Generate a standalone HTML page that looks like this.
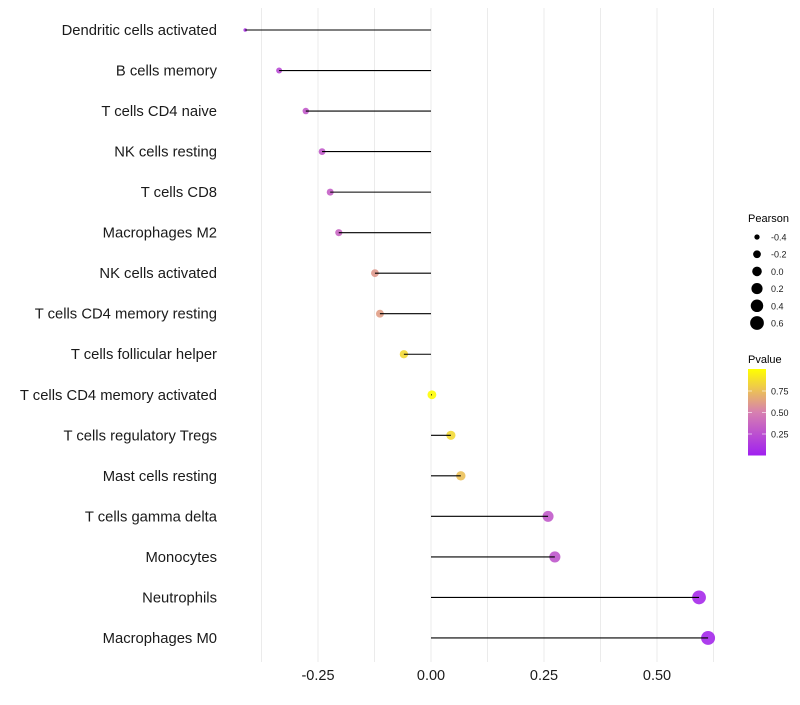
<!DOCTYPE html>
<html><head><meta charset="utf-8"><style>
body{margin:0;background:#fff;font-family:"Liberation Sans",sans-serif}
svg text{font-family:"Liberation Sans",sans-serif}
</style></head><body>
<svg id="chart" width="800" height="700"></svg>
<script>
const categories=["Dendritic cells activated","B cells memory","T cells CD4 naive","NK cells resting","T cells CD8","Macrophages M2","NK cells activated","T cells CD4 memory resting","T cells follicular helper","T cells CD4 memory activated","T cells regulatory  Tregs ","Mast cells resting","T cells gamma delta","Monocytes","Neutrophils","Macrophages M0"];
const pearson=[-0.411,-0.336,-0.277,-0.241,-0.223,-0.204,-0.124,-0.113,-0.060,0.002,0.044,0.066,0.259,0.274,0.593,0.613];
const pvalue=[0.10,0.22,0.30,0.30,0.33,0.36,0.60,0.62,0.85,0.99,0.85,0.75,0.30,0.28,0.05,0.04];
const xTicks=[-0.25,0,0.25,0.5];
const xTickLabels=["-0.25","0.00","0.25","0.50"];
const gridVals=[-0.375,-0.25,-0.125,0,0.125,0.25,0.375,0.5,0.625];
const sizeLegend=[-0.4,-0.2,0.0,0.2,0.4,0.6];
const sizeLegendLabels=["-0.4","-0.2","0.0","0.2","0.4","0.6"];
const pTicks=[0.25,0.5,0.75];
const pTickLabels=["0.25","0.50","0.75"];

const NS="http://www.w3.org/2000/svg";
const svg=document.getElementById('chart');
function mk(t,a,parent){const e=document.createElementNS(NS,t);for(const k in a)e.setAttribute(k,a[k]);(parent||svg).appendChild(e);return e;}
const x=v=>431+v*452;
const y=i=>30+i*40.53;
const rad=v=>v<-0.38?1.8:3+4.2*(v+0.336);
const lrad=v=>Math.sqrt(Math.max(4,23+40*v));
function lerp(a,b,t){return Math.round(a+(b-a)*t);}
function col(p){const s=[[160,32,240],[215,128,176],[255,255,0]];let t=p*2,a=s[0],b=s[1];if(p>0.5){t=(p-0.5)*2;a=s[1];b=s[2];}return `rgb(${lerp(a[0],b[0],t)},${lerp(a[1],b[1],t)},${lerp(a[2],b[2],t)})`;}

gridVals.forEach(g=>{const l=mk('line',{x1:x(g),x2:x(g),y1:8,y2:662,stroke:'#ebebeb','stroke-width':1});

});
categories.forEach((c,i)=>{
 const t=mk('text',{x:217,y:y(i)+5,'text-anchor':'end','font-size':14.8,fill:'#1a1a1a'});t.textContent=c;
 
 
 const p=mk('circle',{cx:x(pearson[i]),cy:y(i),r:rad(pearson[i]),fill:col(pvalue[i]),'fill-opacity':0.9});
 
 
 const l=mk('line',{x1:x(0),x2:x(pearson[i]),y1:y(i),y2:y(i),stroke:'#000','stroke-width':1.1});
 
 
});
xTicks.forEach((v,i)=>{const t=mk('text',{x:x(v),y:680,'text-anchor':'middle','font-size':14.5,fill:'#1a1a1a'});t.textContent=xTickLabels[i];
 
 });
let t=mk('text',{x:748,y:222,'font-size':11,fill:'#000'});t.textContent='Pearson';


sizeLegend.forEach((v,i)=>{const cy=237+i*17.2;const c=mk('circle',{cx:757,cy:cy,r:lrad(v),fill:'#000'});
 
 
 const tt=mk('text',{x:771,y:cy+3.5,'font-size':9,fill:'#1a1a1a'});tt.textContent=sizeLegendLabels[i];
 
 });
t=mk('text',{x:748,y:363,'font-size':11,fill:'#000'});t.textContent='Pvalue';


const defs=mk('defs',{});const g=mk('linearGradient',{id:'pg',x1:0,y1:1,x2:0,y2:0},defs);
mk('stop',{offset:'0',  'stop-color':col(0)},g);mk('stop',{offset:'0.5','stop-color':col(0.5)},g);mk('stop',{offset:'1','stop-color':col(1)},g);
const py=p=>455.5-p*86;
const bar=mk('rect',{x:748,y:369,width:18,height:86.5,fill:'url(#pg)'});


pTicks.forEach((v,i)=>{mk('line',{x1:748,x2:752,y1:py(v),y2:py(v),stroke:'#fff','stroke-opacity':0.6});mk('line',{x1:762,x2:766,y1:py(v),y2:py(v),stroke:'#fff','stroke-opacity':0.6});
 const tt=mk('text',{x:771,y:py(v)+3.5,'font-size':9,fill:'#1a1a1a'});tt.textContent=pTickLabels[i];
 
 });
</script>
</body></html>
